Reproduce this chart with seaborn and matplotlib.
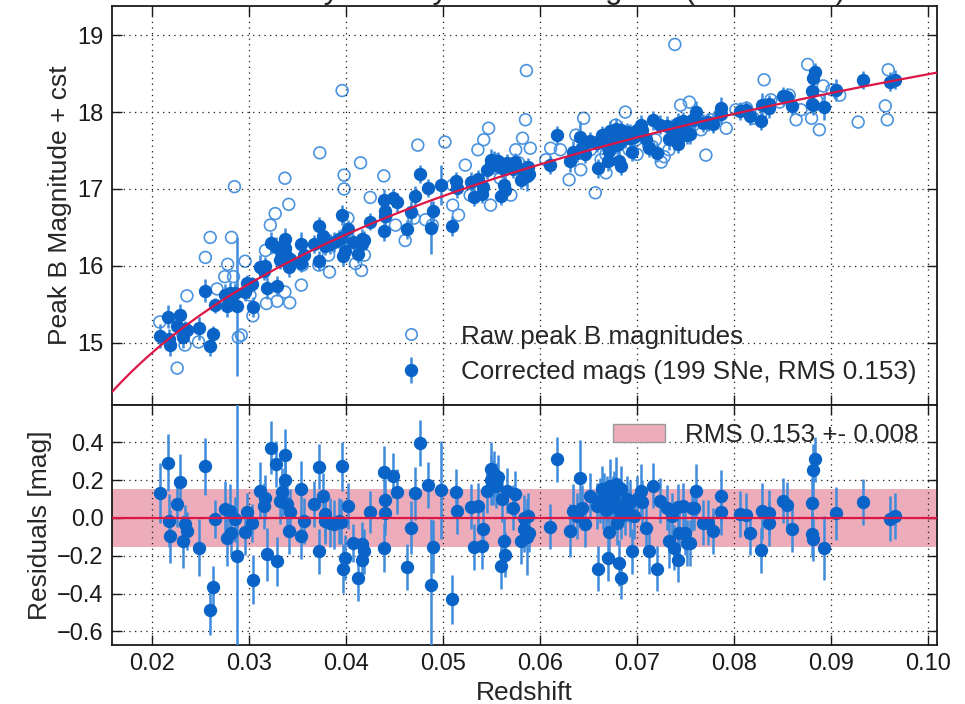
import numpy as np
import matplotlib
matplotlib.use("Agg")
import matplotlib.pyplot as plt
import seaborn as sns
from matplotlib.patches import Patch

# ---------------- data ----------------
z_corr = [0.0208, 0.0217, 0.0218, 0.0219, 0.0226, 0.0229, 0.0232, 0.0234, 0.0236, 0.0248,
          0.0255, 0.0260, 0.0263, 0.0265, 0.0275, 0.0277, 0.0280, 0.0281, 0.0286, 0.0288,
          0.0296, 0.0298, 0.0303, 0.0304, 0.0311, 0.0315, 0.0317, 0.0319, 0.0323, 0.0328,
          0.0329, 0.0332, 0.0334, 0.0337, 0.0337, 0.0339, 0.0341, 0.0342, 0.0354, 0.0354,
          0.0357, 0.0367, 0.0372, 0.0372, 0.0376, 0.0378, 0.0383, 0.0388, 0.0393, 0.0396,
          0.0397, 0.0399, 0.0402, 0.0407, 0.0412, 0.0416, 0.0417, 0.0419, 0.0425, 0.0439,
          0.0439, 0.0440, 0.0440, 0.0448, 0.0453, 0.0463, 0.0467, 0.0471, 0.0476, 0.0485,
          0.0488, 0.0490, 0.0498, 0.0509, 0.0513, 0.0514, 0.0529, 0.0532, 0.0536, 0.0540,
          0.0541, 0.0545, 0.0550, 0.0552, 0.0553, 0.0557, 0.0560, 0.0563, 0.0564, 0.0566,
          0.0572, 0.0574, 0.0580, 0.0583, 0.0584, 0.0587, 0.0588, 0.0589, 0.0610, 0.0618,
          0.0631, 0.0634, 0.0638, 0.0641, 0.0643, 0.0646, 0.0652, 0.0659, 0.0660, 0.0662,
          0.0664, 0.0665, 0.0669, 0.0670, 0.0671, 0.0672, 0.0674, 0.0676, 0.0678, 0.0679,
          0.0679, 0.0681, 0.0683, 0.0683, 0.0684, 0.0688, 0.0690, 0.0693, 0.0693, 0.0695,
          0.0697, 0.0704, 0.0705, 0.0709, 0.0712, 0.0716, 0.0721, 0.0724, 0.0731, 0.0733,
          0.0736, 0.0738, 0.0742, 0.0742, 0.0743, 0.0747, 0.0750, 0.0752, 0.0755, 0.0757,
          0.0759, 0.0761, 0.0768, 0.0773, 0.0778, 0.0787, 0.0787, 0.0806, 0.0812, 0.0817,
          0.0828, 0.0829, 0.0836, 0.0836, 0.0851, 0.0855, 0.0860, 0.0880, 0.0880, 0.0881,
          0.0884, 0.0881, 0.0893, 0.0905, 0.0933, 0.0961, 0.0966,
          0.0549, 0.0555, 0.0561, 0.0666, 0.0668, 0.0675, 0.0686, 0.0700, 0.0378, 0.0395]

resid = [0.132, 0.292, -0.016, -0.096, 0.073, 0.188, -0.123, -0.034, -0.069, -0.158,
         0.272, -0.487, -0.366, -0.004, 0.046, -0.105, 0.037, -0.078, -0.007, -0.203,
         -0.075, 0.032, -0.028, -0.327, 0.144, 0.064, 0.107, -0.192, 0.370, 0.286,
         -0.229, 0.090, 0.135, 0.331, 0.203, 0.073, -0.069, 0.032, -0.096, 0.153,
         -0.016, 0.073, 0.271, -0.176, 0.117, -0.016, -0.025, -0.034, -0.016, 0.274,
         -0.268, -0.210, 0.064, -0.132, -0.318, -0.140, -0.220, -0.176, 0.032, 0.242,
         -0.158, 0.094, 0.028, 0.224, 0.139, -0.260, -0.052, 0.130, 0.396, 0.174,
         -0.354, -0.153, 0.149, -0.430, 0.139, 0.037, 0.060, -0.153, 0.064, -0.149,
         -0.060, 0.144, 0.260, 0.188, 0.233, 0.215, -0.256, -0.123, -0.194, 0.144,
         0.055, 0.126, -0.123, 0.000, -0.060, -0.100, 0.011, -0.078, -0.046, 0.310,
         -0.069, 0.037, 0.011, 0.210, 0.055, -0.034, 0.117, 0.064, -0.268, 0.091,
         0.153, 0.064, 0.100, -0.212, -0.075, 0.171, 0.082, 0.126, 0.180, -0.025,
         0.055, -0.238, -0.318, 0.153, 0.011, 0.028, 0.100, 0.020, 0.082, -0.176,
         0.011, 0.144, 0.082, -0.052, -0.176, 0.171, -0.268, 0.091, 0.055, -0.123,
         0.011, -0.158, -0.220, 0.060, -0.078, 0.064, -0.078, -0.132, -0.132, 0.050,
         0.055, 0.144, -0.025, -0.025, -0.069, 0.032, 0.114, 0.020, 0.014, -0.078,
         -0.171, 0.037, 0.028, -0.028, 0.091, 0.068, -0.060, 0.078, -0.087, 0.251,
         0.309, -0.110, -0.158, 0.025, 0.085, -0.004, 0.011,
         0.200, 0.170, 0.100, 0.120, 0.040, 0.100, 0.070, 0.100, 0.020, -0.020]

err = [0.16, 0.15, 0.14, 0.14, 0.12, 0.15, 0.14, 0.10, 0.10, 0.15,
       0.15, 0.13, 0.11, 0.10, 0.15, 0.15, 0.14, 0.12, 0.12, 0.90,
       0.12, 0.10, 0.10, 0.13, 0.15, 0.12, 0.12, 0.14, 0.14, 0.12,
       0.13, 0.12, 0.13, 0.14, 0.12, 0.12, 0.12, 0.12, 0.12, 0.15,
       0.12, 0.12, 0.12, 0.12, 0.12, 0.12, 0.13, 0.13, 0.12, 0.13,
       0.13, 0.12, 0.12, 0.10, 0.12, 0.12, 0.12, 0.12, 0.11, 0.14,
       0.13, 0.14, 0.12, 0.12, 0.12, 0.12, 0.14, 0.14, 0.12, 0.12,
       0.35, 0.14, 0.26, 0.13, 0.12, 0.12, 0.12, 0.12, 0.12, 0.12,
       0.12, 0.12, 0.14, 0.12, 0.12, 0.12, 0.12, 0.12, 0.12, 0.12,
       0.12, 0.12, 0.12, 0.12, 0.12, 0.20, 0.12, 0.10, 0.12, 0.12,
       0.14, 0.14, 0.12, 0.20, 0.12, 0.12, 0.12, 0.12, 0.12, 0.12,
       0.12, 0.12, 0.12, 0.12, 0.12, 0.14, 0.12, 0.12, 0.14, 0.12,
       0.12, 0.12, 0.11, 0.12, 0.12, 0.12, 0.12, 0.12, 0.12, 0.12,
       0.12, 0.14, 0.12, 0.12, 0.12, 0.12, 0.12, 0.12, 0.12, 0.14,
       0.12, 0.12, 0.12, 0.12, 0.12, 0.12, 0.12, 0.12, 0.12, 0.12,
       0.12, 0.14, 0.12, 0.12, 0.12, 0.12, 0.14, 0.12, 0.12, 0.12,
       0.12, 0.15, 0.12, 0.12, 0.12, 0.12, 0.12, 0.14, 0.12, 0.14,
       0.12, 0.12, 0.17, 0.14, 0.12, 0.12, 0.12,
       0.13, 0.12, 0.12, 0.12, 0.12, 0.12, 0.12, 0.12, 0.12, 0.12]

z_raw = [0.0208, 0.0226, 0.0236, 0.0234, 0.0248, 0.0255, 0.0260, 0.0267, 0.0275, 0.0278,
         0.0282, 0.0285, 0.0284, 0.0289, 0.0292, 0.0296, 0.0301, 0.0304, 0.0317, 0.0318,
         0.0322, 0.0327, 0.0329, 0.0337, 0.0337, 0.0341, 0.0342, 0.0354, 0.0355, 0.0373,
         0.0383, 0.0372, 0.0382, 0.0398, 0.0398, 0.0402, 0.0415, 0.0416, 0.0410, 0.0419,
         0.0425, 0.0439, 0.0441, 0.0451, 0.0461, 0.0470, 0.0474, 0.0482, 0.0489, 0.0396,
         0.0502, 0.0510, 0.0510, 0.0516, 0.0523, 0.0528, 0.0536, 0.0542, 0.0547, 0.0549,
         0.0554, 0.0559, 0.0564, 0.0570, 0.0575, 0.0578, 0.0582, 0.0585, 0.0586, 0.0590,
         0.0606, 0.0611, 0.0621, 0.0630, 0.0637, 0.0642, 0.0645, 0.0652, 0.0657, 0.0663,
         0.0668, 0.0675, 0.0678, 0.0688, 0.0692, 0.0699, 0.0704, 0.0712, 0.0719, 0.0725,
         0.0733, 0.0739, 0.0745, 0.0749, 0.0754, 0.0758, 0.0766, 0.0771, 0.0776, 0.0785,
         0.0792, 0.0802, 0.0813, 0.0820, 0.0828, 0.0831, 0.0838, 0.0847, 0.0857, 0.0864,
         0.0869, 0.0876, 0.0880, 0.0885, 0.0888, 0.0892, 0.0901, 0.0909, 0.0928, 0.0956,
         0.0958, 0.0959,
         0.0700, 0.0716, 0.0728, 0.0668]

mag_raw = [15.27, 14.67, 15.61, 14.97, 15.01, 16.11, 16.37, 15.70, 15.86, 16.02,
           16.37, 17.03, 15.86, 15.07, 15.10, 16.06, 15.62, 15.35, 16.20, 15.51,
           16.53, 16.68, 15.54, 17.14, 15.66, 16.80, 15.52, 15.75, 16.01, 17.47,
           15.92, 16.01, 16.14, 17.18, 17.00, 16.62, 17.34, 15.94, 16.03, 16.14,
           16.89, 17.17, 16.64, 16.53, 16.33, 16.62, 17.57, 16.60, 16.53, 18.28,
           17.61, 17.05, 16.79, 16.66, 17.31, 16.92, 17.51, 17.64, 17.79, 16.79,
           17.38, 17.14, 17.25, 16.92, 17.51, 17.34, 17.66, 17.90, 18.54, 17.53,
           17.38, 17.53, 17.51, 17.12, 17.70, 17.25, 17.92, 17.51, 16.95, 17.38,
           17.21, 17.64, 17.83, 18.00, 17.51, 17.64, 17.79, 17.57, 17.64, 17.35,
           17.51, 18.88, 18.09, 17.70, 18.13, 17.83, 17.77, 17.44, 17.90, 17.96,
           17.79, 18.03, 18.05, 17.92, 17.99, 18.42, 18.16, 18.13, 18.22, 17.90,
           18.03, 18.62, 17.92, 18.16, 17.77, 18.34, 18.29, 18.22, 17.87, 18.08,
           17.90, 18.55,
           17.45, 17.55, 17.42, 17.45]

x_ticks = [0.02, 0.03, 0.04, 0.05, 0.06, 0.07, 0.08, 0.09, 0.10]
y_ticks_top = [15, 16, 17, 18, 19]
y_ticks_bot = [-0.6, -0.4, -0.2, 0.0, 0.2, 0.4]

# Hubble-law model (zero point and deceleration parameter)
M0 = 23.33
q0 = -0.55
rms, rms_err = 0.153, 0.008
n_sne = 199


def model(z):
    z = np.asarray(z, dtype=float)
    return M0 + 5.0 * np.log10(z * (1.0 + 0.5 * (1.0 - q0) * z))


mag_corr = model(z_corr) + np.asarray(resid)

# ---------------- style ----------------
sns.set_theme(style="white")
plt.rcParams['font.family'] = ['Liberation Sans', 'DejaVu Sans']
plt.rcParams['axes.unicode_minus'] = True

c_fill = '#0A64C8'
c_err = '#3F8CDC'
c_raw = '#4A93E0'
c_red = '#DC1745'
c_band = '#ECACBA'

fig = plt.figure(figsize=(9.65, 7.04), dpi=100)
ax1 = fig.add_axes([0.1161, 0.4247, 0.8549, 0.5668])
ax2 = fig.add_axes([0.1161, 0.0838, 0.8549, 0.3409], sharex=ax1)

grid_kw = dict(color='k', linestyle=(0, (1, 3.5)), linewidth=0.9)

# ---- top panel ----
sns.scatterplot(x=z_raw, y=mag_raw, ax=ax1, marker='o', s=72,
                facecolors='none', edgecolor=c_raw, color=c_raw,
                linewidth=1.2, zorder=2, legend=False)
eb = ax1.errorbar(z_corr, mag_corr, yerr=err, fmt='o', color=c_fill,
                  ecolor=c_err, elinewidth=1.8, capsize=0, ms=8.6,
                  mec=c_fill, zorder=3)
zz = np.linspace(0.0150, 0.1020, 400)
ax1.plot(zz, model(zz), color=c_red, lw=1.6, zorder=4)

raw_handle = plt.Line2D([], [], marker='o', ls='none', mfc='none', mec=c_raw,
                        mew=1.2, ms=8.2)
ax1.legend([raw_handle, eb], ['Raw peak B magnitudes',
                              f'Corrected mags ({n_sne} SNe, RMS {rms:.3f})'],
           loc='lower right', frameon=False, fontsize=18.7,
           handletextpad=0.9, borderaxespad=0.4, labelspacing=0.45)

ax1.set_xlim(0.01588, 0.10093)
ax1.set_ylim(14.19, 19.38)
ax1.set_yticks(y_ticks_top)
ax1.set_ylabel('Peak B Magnitude + cst', fontsize=19)
ax1.set_title('SNfactory Nearby Hubble diagram (SALT2 fits)', fontsize=22.3)
ax1.grid(True, **grid_kw)
ax1.tick_params(labelbottom=False)

# ---- bottom panel ----
ax2.axhspan(-rms, rms, color=c_band, zorder=0, lw=0)
ax2.axhline(0.0, color=c_red, lw=1.6, zorder=4)
ax2.errorbar(z_corr, resid, yerr=err, fmt='o', color=c_fill, ecolor=c_err,
             elinewidth=1.8, capsize=0, ms=8.6, mec=c_fill, zorder=3)
band_handle = Patch(facecolor=c_band, edgecolor='#9A9A9A', lw=1.0)
ax2.legend([band_handle], [f'RMS {rms:.3f} +- {rms_err:.3f}'], loc='upper right',
           frameon=False, fontsize=18.7, handletextpad=0.8, borderaxespad=0.3)
ax2.set_ylim(-0.672, 0.597)
ax2.set_yticks(y_ticks_bot)
ax2.set_yticklabels([f'{v:.1f}'.replace('-', '\u2212') if abs(v) > 1e-9 else '0.0'
                     for v in y_ticks_bot])
ax2.set_xticks(x_ticks)
ax2.set_xticklabels([f'{v:.2f}' for v in x_ticks])
ax2.set_xlabel('Redshift', fontsize=19)
ax2.set_ylabel('Residuals [mag]', fontsize=19)
ax2.grid(True, **grid_kw)

for ax in (ax1, ax2):
    ax.set_axisbelow(False)
    for sp in ax.spines.values():
        sp.set_color('k')
        sp.set_linewidth(1.3)
    ax.tick_params(direction='in', length=7, width=1.0, colors='k',
                   top=True, right=True, bottom=True, left=True,
                   labelsize=17, pad=6)

fig.savefig('out.png', dpi=100)
